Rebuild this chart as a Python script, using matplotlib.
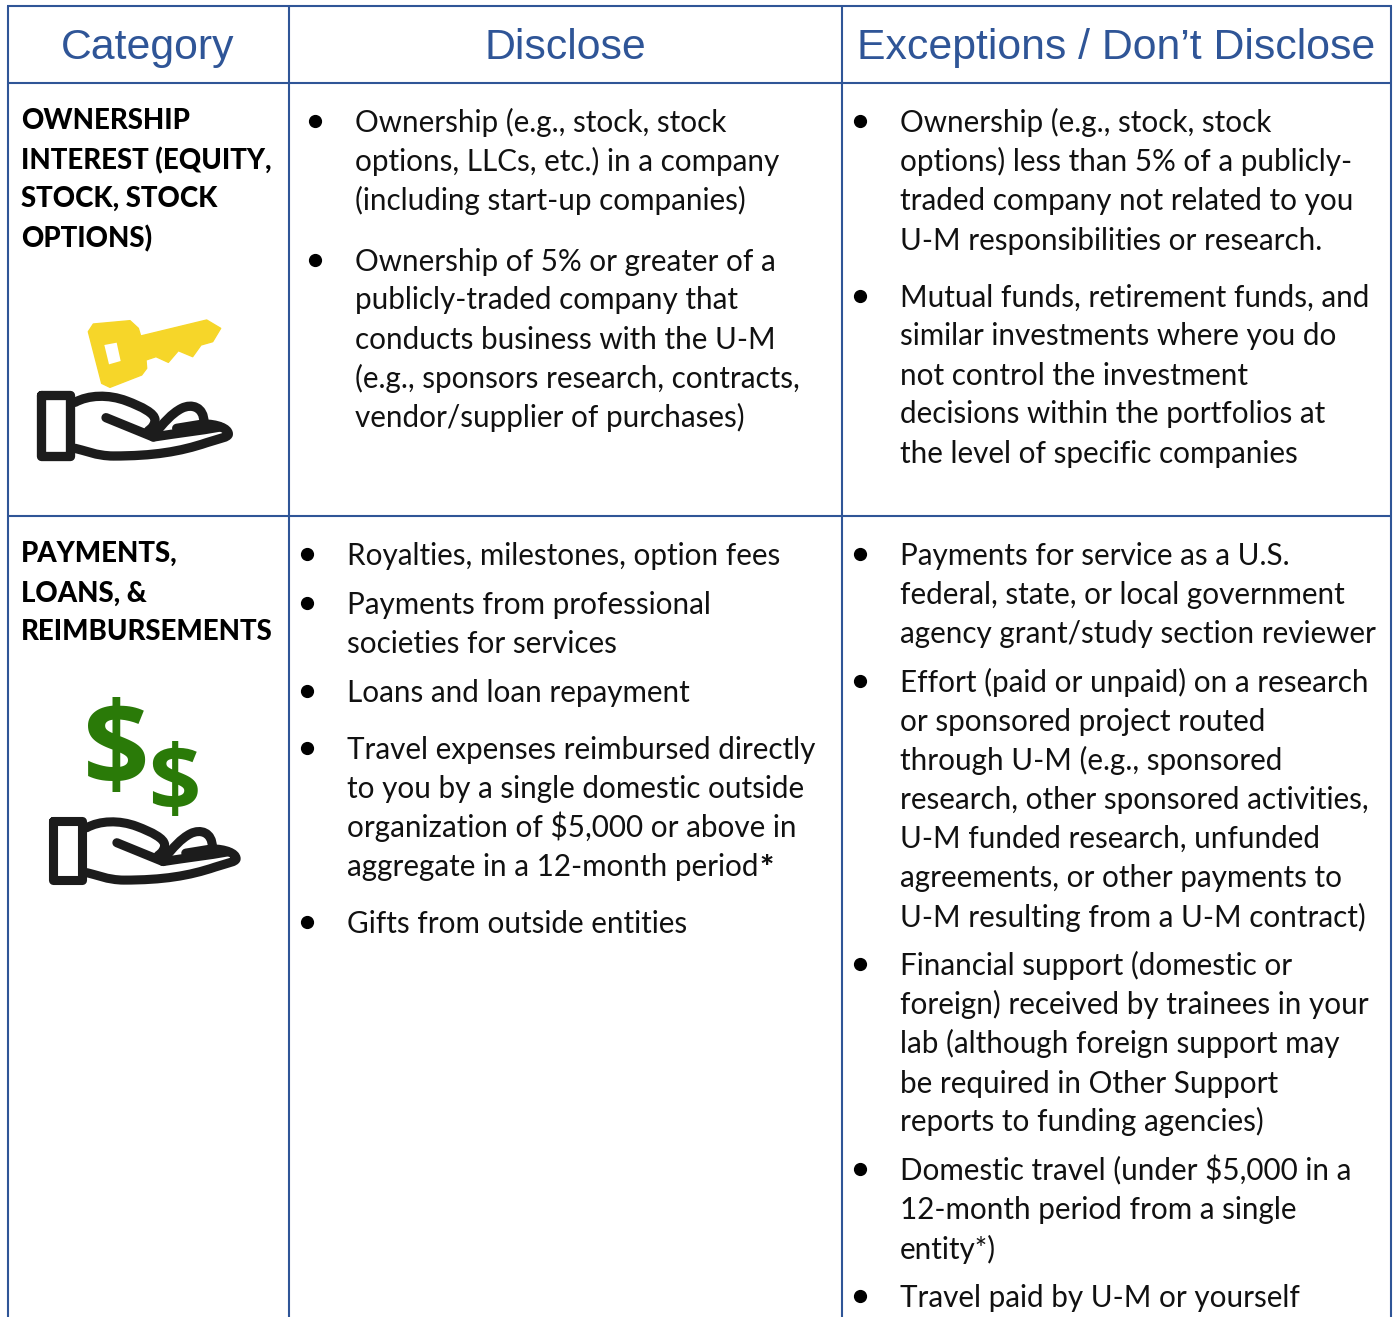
import matplotlib
matplotlib.use("Agg")
import matplotlib.pyplot as plt
from matplotlib.patches import PathPatch, Polygon
from matplotlib.path import Path

BLUE = "#2f5597"
GREEN = "#2a7a08"
YELLOW = "#f6d629"
INK = "#1c1c1c"

headers = ["Category", "Disclose", "Exceptions / Don\u2019t Disclose"]

own_label = ["OWNERSHIP", "INTEREST (EQUITY,", "STOCK, STOCK", "OPTIONS)"]
pay_label = ["PAYMENTS,", "LOANS, &", "REIMBURSEMENTS"]

own_disclose = [
    ["Ownership (e.g., stock, stock", "options, LLCs, etc.) in a company",
     "(including start-up companies)"],
    ["Ownership of 5% or greater of a", "publicly-traded company that",
     "conducts business with the U-M", "(e.g., sponsors research, contracts,",
     "vendor/supplier of purchases)"],
]
own_except = [
    ["Ownership (e.g., stock, stock", "options) less than 5% of a publicly-",
     "traded company not related to you", "U-M responsibilities or research."],
    ["Mutual funds, retirement funds, and", "similar investments where you do",
     "not control the investment", "decisions within the portfolios at",
     "the level of specific companies"],
]
pay_disclose = [
    ["Royalties, milestones, option fees"],
    ["Payments from professional", "societies for services"],
    ["Loans and loan repayment"],
    ["Travel expenses reimbursed directly", "to you by a single domestic outside",
     "organization of $5,000 or above in", "aggregate in a 12-month period"],
    ["Gifts from outside entities"],
]
pay_except = [
    ["Payments for service as a U.S.", "federal, state, or local government",
     "agency grant/study section reviewer"],
    ["Effort (paid or unpaid) on a research", "or sponsored project routed",
     "through U-M (e.g., sponsored", "research, other sponsored activities,",
     "U-M funded research, unfunded", "agreements, or other payments to",
     "U-M resulting from a U-M contract)"],
    ["Financial support (domestic or", "foreign) received by trainees in your",
     "lab (although foreign support may", "be required in Other Support",
     "reports to funding agencies)"],
    ["Domestic travel (under $5,000 in a", "12-month period from a single",
     "entity*)"],
    ["Travel paid by U-M or yourself"],
]

# vertical centre of each line, px from top
own_label_y = [119, 159, 197, 237]
pay_label_y = [552, 592, 630]
own_disclose_y = [[121, 160, 199], [260, 298, 338, 377, 416]]
own_except_y = [[121, 160, 199, 239], [296, 334, 374, 412, 452]]
pay_disclose_y = [[554], [603, 642], [691], [748, 787, 826, 865], [922]]
pay_except_y = [[554, 593, 632], [681, 720, 759, 798, 837, 876, 916],
                [964, 1003, 1042, 1082, 1120], [1169, 1208, 1248], [1296]]

fig = plt.figure(figsize=(13.94, 13.17), dpi=100)
ax = fig.add_axes([0, 0, 1, 1])
ax.set_xlim(0, 1394)
ax.set_ylim(1317, 0)
ax.axis("off")

# table rules
for x in [8, 289, 842, 1391]:
    ax.plot([x, x], [6, 1317], color=BLUE, lw=1.5, solid_capstyle="butt")
for y in [6, 83, 516]:
    ax.plot([7, 1392], [y, y], color=BLUE, lw=1.5, solid_capstyle="butt")

for label, cx in zip(headers, [148, 565, 1116]):
    ax.text(cx, 59, label, ha="center", va="baseline", color=BLUE,
            family="Liberation Sans", fontsize=30.8)

BODY = dict(family="Lato", fontsize=21.3, color="#111111", va="baseline")


def label_block(lines, ys):
    for s, y in zip(lines, ys):
        ax.text(21, y + 10, s, family="Lato", fontsize=19.9, fontweight="black",
                color="black", va="baseline")


def bullets(blocks, ys, x_text, x_dot):
    drawn = []
    for block, block_y in zip(blocks, ys):
        ax.plot([x_dot], [block_y[0]], "o", color="black", ms=8.5)
        for s, y in zip(block, block_y):
            drawn.append(ax.text(x_text, y + 11, s, **BODY))
    return drawn


label_block(own_label, own_label_y)
label_block(pay_label, pay_label_y)
bullets(own_disclose, own_disclose_y, 355, 315)
bullets(own_except, own_except_y, 900, 860)
pd_text = bullets(pay_disclose, pay_disclose_y, 347, 307)
bullets(pay_except, pay_except_y, 900, 860)

# bold asterisk after "12-month period"
fig.canvas.draw()
period = [t for t in pd_text if t.get_text().endswith("period")][0]
ax.text(period.get_window_extent().x1 + 1, 878, "*", family="Lato", fontsize=24,
        fontweight="black", color="#111111", va="baseline")


def hand(ox, oy, k=1 / 3):
    """Open hand outline, shape traced on a 3x crop of the icon."""
    def pt(x, y):
        return (ox + x * k, oy + y * k)
    M, L, C = Path.MOVETO, Path.LINETO, Path.CURVE4
    strokes = [
        ([(62, 285), (150, 285), (150, 468), (62, 468), (62, 285)], [M, L, L, L, L]),
        # palm top round into the thumb
        ([(165, 307), (205, 285), (265, 282), (320, 303), (365, 320), (405, 340), (405, 360),
          (405, 375), (395, 385), (385, 392)], [M, C, C, C, C, C, C, C, C, C]),
        ([(258, 353), (400, 411)], [M, L]),
        ([(400, 411), (470, 400), (540, 392), (600, 381)], [M, C, C, C]),
        # fingers
        ([(405, 400), (430, 370), (455, 340), (485, 325), (515, 310), (552, 320), (552, 368)],
         [M, C, C, C, C, C, C]),
        # fingertip and underside back to the cuff
        ([(470, 385), (550, 372), (590, 372), (625, 385), (625, 402), (625, 412), (600, 415),
          (560, 428), (480, 455), (400, 468), (280, 468), (230, 468), (190, 450), (165, 445)],
         [M, L, C, C, C, C, C, C, C, C, C, C, C, C]),
    ]
    for verts, codes in strokes:
        p = Path([pt(*v) for v in verts], codes)
        ax.add_patch(PathPatch(p, fc="none", ec=INK, lw=6.7 * k * 3, capstyle="round",
                               joinstyle="round"))


# key
key = [(205, 95), (220, 72), (330, 62), (355, 85), (362, 108), (560, 60), (602, 85),
       (578, 125), (543, 135), (518, 170), (475, 152), (445, 187), (408, 170), (378, 180),
       (380, 205), (365, 225), (270, 262), (245, 250)]
hole = [(253, 135), (290, 128), (302, 183), (267, 193)]
ax.add_patch(Polygon([(20 + x / 3, 300 + y / 3) for x, y in key], fc=YELLOW, ec=YELLOW, lw=1,
                     joinstyle="round"))
ax.add_patch(Polygon([(20 + x / 3, 300 + y / 3) for x, y in hole], fc="white", ec="none"))
hand(20, 300)

# dollars
ax.text(116, 741, "$", family="Open Sans", fontweight="bold", fontsize=84, color=GREEN,
        ha="center", va="center_baseline")
ax.text(174, 776, "$", family="Open Sans", fontweight="bold", fontsize=66, color=GREEN,
        ha="center", va="center_baseline")
hand(33, 728, k=0.325)

fig.savefig("out.png", dpi=100)
